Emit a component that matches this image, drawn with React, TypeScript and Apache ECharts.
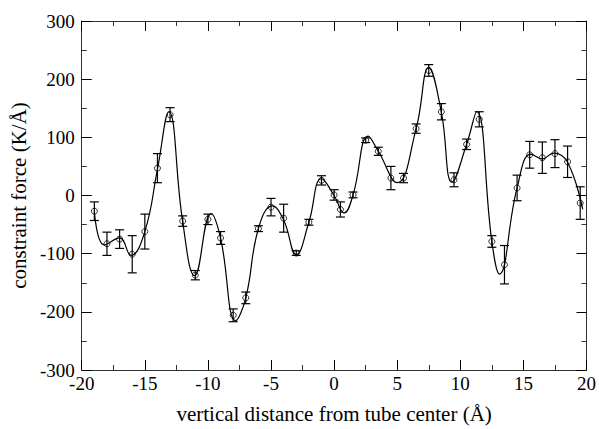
import React, { useEffect, useRef } from "react";
import * as echarts from "echarts";

// measured data points (x in Å, constraint force in K/Å, error half-width)
const xs = [-19, -18, -17, -16, -15, -14, -13, -12, -11, -10, -9, -8, -7, -6, -5, -4, -3, -2, -1, 0, 0.5, 1.5, 2.5, 3.5, 4.5, 5.5, 6.5, 7.5, 8.5, 9.5, 10.5, 11.5, 12.5, 13.5, 14.5, 15.5, 16.5, 17.5, 18.5, 19.5];
const ys = [-27, -83, -75, -101, -62, 47, 139, -44, -137, -41, -73, -206, -176, -57, -20, -39, -99, -46, 26, 1, -24, 1, 95, 76, 30, 30, 115, 215, 144, 27, 88, 131, -79, -119, 13, 70, 65, 72, 58, -13];
const errs = [16, 20, 16, 32, 30, 25, 12, 9, 8, 9, 11, 11, 10, 5, 15, 24, 4, 5, 8, 9, 13, 5, 4, 7, 20, 8, 8, 10, 14, 12, 9, 13, 10, 33, 22, 23, 27, 24, 27, 28];

// fitted smooth curve
const curveX = [-19, -18.2, -17, -16.1, -15, -14, -13.1, -12, -11.05, -9.75, -9, -7.8, -7, -6, -4.9, -4, -3, -2, -1, 0, 0.8, 1.5, 2.7, 3.5, 5, 6.5, 7.5, 8.5, 9.35, 10.5, 11.3, 12.5, 13.1, 14.5, 15.6, 16.5, 17.4, 18.5, 19.7];
const curveY = [-27, -85, -73, -103, -62, 45, 144, -45, -138, -31, -73, -215, -176, -57, -18, -42, -102, -46, 29, 0, -30, 1, 102, 76, 22, 115, 220, 143, 23, 88, 144, -79, -135, 13, 71, 63, 73, 57, -24];

const xMin = -20, xMax = 20, xStep = 5;
const yMin = -300, yMax = 300, yStep = 100;

const FONT = "'Liberation Serif', 'DejaVu Serif', serif";

export default function App() {
  const ref = useRef<HTMLDivElement>(null);
  useEffect(() => {
    if (!ref.current) return;
    const chart = echarts.init(ref.current, null, { renderer: "svg" });
    const axisCommon = {
      axisLine: { show: true, onZero: false, lineStyle: { color: "#333", width: 1 } },
      axisTick: { show: true, inside: true, length: 10, lineStyle: { color: "#000", width: 1 } },
      minorTick: { show: true, splitNumber: 2, length: 5, lineStyle: { color: "#333", width: 1 } },
      splitLine: { show: false },
    };
    const errData = xs.map((x, i) => [x, ys[i], errs[i]]);
    chart.setOption({
      animation: false,
      backgroundColor: "#fff",
      grid: { left: 81, right: 10, top: 21, bottom: 52 },
      xAxis: [
        {
          type: "value", min: xMin, max: xMax, interval: xStep, position: "bottom",
          ...axisCommon,
          axisLabel: { color: "#000", fontFamily: FONT, fontSize: 19, margin: 4 },
          name: "vertical distance from tube center (Å)",
          nameLocation: "middle", nameGap: 33,
          nameTextStyle: { color: "#000", fontFamily: FONT, fontSize: 21 },
        },
        {
          type: "value", min: xMin, max: xMax, interval: xStep, position: "top",
          ...axisCommon, axisLabel: { show: false },
        },
      ],
      yAxis: [
        {
          type: "value", min: yMin, max: yMax, interval: yStep, position: "left",
          ...axisCommon,
          axisLabel: { color: "#000", fontFamily: FONT, fontSize: 19, margin: 7 },
          name: "constraint force (K/Å)",
          nameLocation: "middle", nameGap: 43,
          nameTextStyle: { color: "#000", fontFamily: FONT, fontSize: 21 },
        },
        {
          type: "value", min: yMin, max: yMax, interval: yStep, position: "right",
          ...axisCommon, axisLabel: { show: false },
        },
      ],
      series: [
        {
          type: "line",
          data: curveX.map((x, i) => [x, curveY[i]]),
          smooth: 0.45,
          showSymbol: false,
          lineStyle: { color: "#000", width: 1.2 },
          z: 2,
        },
        {
          type: "custom",
          data: errData,
          encode: { x: 0, y: 1 },
          renderItem: (params: any, api: any) => {
            const x = api.value(0), y = api.value(1), e = api.value(2);
            const t = api.coord([x, y + e]);
            const b = api.coord([x, y - e]);
            const hw = 4.5;
            const st = { stroke: "#000", lineWidth: 1.2 };
            return {
              type: "group",
              children: [
                { type: "line", shape: { x1: t[0], y1: t[1], x2: b[0], y2: b[1] }, style: st },
                { type: "line", shape: { x1: t[0] - hw, y1: t[1], x2: t[0] + hw, y2: t[1] }, style: st },
                { type: "line", shape: { x1: b[0] - hw, y1: b[1], x2: b[0] + hw, y2: b[1] }, style: st },
              ],
            };
          },
          z: 3,
        },
        {
          type: "scatter",
          data: xs.map((x, i) => [x, ys[i]]),
          symbol: "circle",
          symbolSize: 6,
          itemStyle: { color: "rgba(255,255,255,0)", borderColor: "#000", borderWidth: 1 },
          z: 4,
        },
      ],
    });
    return () => chart.dispose();
  }, []);
  return <div ref={ref} style={{ position: "absolute", left: 0, top: 0, width: 599, height: 429 }} />;
}
